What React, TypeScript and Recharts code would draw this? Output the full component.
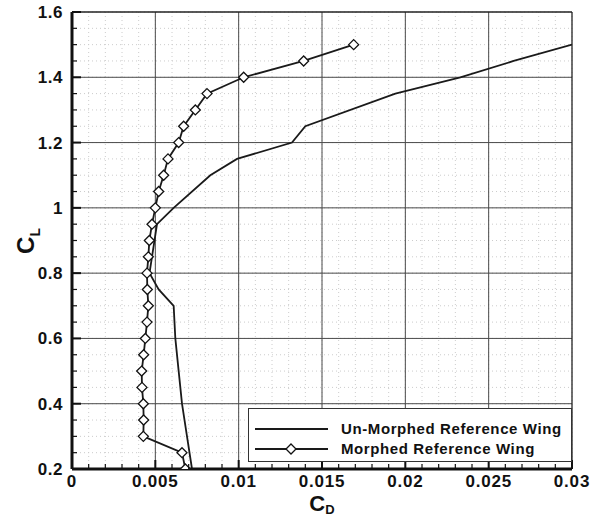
import React from 'react';
import { LineChart, Line, XAxis, YAxis, CartesianGrid, ReferenceLine, Legend } from 'recharts';

// lift coefficient (y) and drag coefficient (x)
const unmorphedCl = [0.2, 0.3, 0.4, 0.5, 0.6, 0.7, 0.75, 0.8, 0.95, 1.0, 1.1, 1.15, 1.2, 1.25, 1.35, 1.4, 1.45, 1.5];
const unmorphedCd = [0.0072, 0.0069, 0.0066, 0.0064, 0.0062, 0.0061, 0.0052, 0.00465, 0.0051, 0.0061, 0.0083, 0.0099, 0.0132, 0.014, 0.0194, 0.0233, 0.0265, 0.03];

const morphedCl = [0.2, 0.25, 0.3, 0.35, 0.4, 0.45, 0.5, 0.55, 0.6, 0.65, 0.7, 0.75, 0.8, 0.85, 0.9, 0.95, 1.0, 1.05, 1.1, 1.15, 1.2, 1.25, 1.3, 1.35, 1.4, 1.45, 1.5];
const morphedCd = [0.0068, 0.0066, 0.00428, 0.0043, 0.00428, 0.0042, 0.00418, 0.0043, 0.0044, 0.0045, 0.00458, 0.00452, 0.0045, 0.00458, 0.00464, 0.0048, 0.005, 0.0052, 0.0055, 0.00576, 0.0064, 0.0067, 0.0074, 0.0081, 0.0103, 0.0139, 0.0169];

const seriesNames = ['Un-Morphed Reference Wing', 'Morphed Reference Wing'];

const xTicks = [0, 0.005, 0.01, 0.015, 0.02, 0.025, 0.03];
const xTickLabels = ['0', '0.005', '0.01', '0.015', '0.02', '0.025', '0.03'];
const yTicks = [0.2, 0.4, 0.6, 0.8, 1.0, 1.2, 1.4, 1.6];
const yTickLabels = ['0.2', '0.4', '0.6', '0.8', '1', '1.2', '1.4', '1.6'];

const unmorphed = unmorphedCl.map((cl, i) => ({ cd: unmorphedCd[i], cl }));
const morphed = morphedCl.map((cl, i) => ({ cd: morphedCd[i], cl }));

// minor divisions between major ticks
const subdivide = (major: number[], n: number) => {
  const out: number[] = [];
  for (let i = 0; i < major.length - 1; i++) {
    const step = (major[i + 1] - major[i]) / n;
    for (let k = 0; k < n; k++) out.push(major[i] + k * step);
  }
  out.push(major[major.length - 1]);
  return out;
};
const xMinor = subdivide(xTicks, 5);
const yMinor = subdivide(yTicks, 4);

const FONT = '"Liberation Sans", Arial, Helvetica, sans-serif';
const near = (a: number, b: number) => Math.abs(a - b) < 1e-9;

const XTick = (props: any) => {
  const { x, y, payload } = props;
  const idx = xTicks.findIndex((t) => near(t, payload.value));
  const major = idx >= 0;
  return (
    <g>
      <line x1={x} x2={x} y1={y} y2={y - (major ? 9 : 5)} stroke="#111" strokeWidth={major ? 2 : 1.2} />
      {major && (
        <text x={x} y={y + 18} textAnchor="middle" fontFamily={FONT} fontWeight="bold" fontSize={17} letterSpacing={0.8} fill="#111">
          {xTickLabels[idx]}
        </text>
      )}
    </g>
  );
};

const YTick = (props: any) => {
  const { x, y, payload } = props;
  const idx = yTicks.findIndex((t) => near(t, payload.value));
  const major = idx >= 0;
  return (
    <g>
      <line x1={x} x2={x + (major ? 9 : 5)} y1={y} y2={y} stroke="#111" strokeWidth={major ? 2 : 1.2} />
      {major && (
        <text x={x - 9} y={y + 6} textAnchor="end" fontFamily={FONT} fontWeight="bold" fontSize={17} letterSpacing={0.5} fill="#111">
          {yTickLabels[idx]}
        </text>
      )}
    </g>
  );
};

const Diamond = (props: any) => {
  const { cx, cy, index } = props;
  if (cx == null || cy == null) return <g key={index} />;
  const r = 5;
  return (
    <polygon
      key={index}
      points={`${cx},${cy - r} ${cx + r},${cy} ${cx},${cy + r} ${cx - r},${cy}`}
      fill="#fff"
      stroke="#111"
      strokeWidth={1.3}
    />
  );
};

const renderLegend = () => (
  <div
    style={{
      width: 324,
      height: 54,
      boxSizing: 'border-box',
      border: '1.5px solid #333',
      background: '#fff',
      position: 'relative',
      fontFamily: FONT,
      fontWeight: 'bold',
      fontSize: 15,
      letterSpacing: 0.6,
      color: '#111',
    }}
  >
    {seriesNames.map((name, i) => (
      <div key={name} style={{ position: 'absolute', left: 0, top: i === 0 ? 10 : 29.5, height: 20, display: 'flex', alignItems: 'center' }}>
        <svg width={92} height={20}>
          <line x1={6} x2={79} y1={10} y2={10} stroke="#1a1a1a" strokeWidth={1.8} />
          {i === 1 && <polygon points="42,5 47,10 42,15 37,10" fill="#fff" stroke="#111" strokeWidth={1.3} />}
        </svg>
        <span style={{ lineHeight: '20px' }}>{name}</span>
      </div>
    ))}
  </div>
);

export default function App() {
  return (
    <div style={{ position: 'absolute', left: 0, top: 0, width: 601, height: 517, background: '#fff' }}>
      <LineChart width={601} height={517} margin={{ top: 12, right: 29, bottom: 0, left: 0 }}>
        <CartesianGrid stroke="#cccccc" strokeDasharray="1 3" />
        {xTicks.slice(1, -1).map((v) => (
          <ReferenceLine key={`x${v}`} x={v} stroke="#4a4a4a" strokeWidth={1} />
        ))}
        {yTicks.slice(1, -1).map((v) => (
          <ReferenceLine key={`y${v}`} y={v} stroke="#4a4a4a" strokeWidth={1} />
        ))}
        <ReferenceLine x={0.03} stroke="#222" strokeWidth={1.3} />
        <ReferenceLine y={1.6} stroke="#222" strokeWidth={1.3} />
        <XAxis
          type="number"
          dataKey="cd"
          domain={[0, 0.03]}
          ticks={xMinor}
          interval={0}
          height={48}
          tickSize={0}
          tickMargin={0}
          tickLine={false}
          axisLine={{ stroke: '#111', strokeWidth: 3 }}
          tick={(p: any) => <XTick {...p} />}
          allowDataOverflow
          label={{
            content: () => (
              <text x={322} y={511} textAnchor="middle" fontFamily={FONT} fontWeight="bold" fill="#111">
                <tspan fontSize={22}>C</tspan>
                <tspan fontSize={13} dy={3}>D</tspan>
              </text>
            ),
          }}
        />
        <YAxis
          type="number"
          dataKey="cl"
          domain={[0.2, 1.6]}
          ticks={yMinor}
          interval={0}
          width={72}
          tickSize={0}
          tickMargin={0}
          tickLine={false}
          axisLine={{ stroke: '#111', strokeWidth: 3 }}
          tick={(p: any) => <YTick {...p} />}
          allowDataOverflow
          label={{
            content: () => (
              <text x={34} y={241} transform="rotate(-90, 34, 241)" textAnchor="middle" fontFamily={FONT} fontWeight="bold" fill="#111">
                <tspan fontSize={24}>C</tspan>
                <tspan fontSize={14} dy={6}>L</tspan>
              </text>
            ),
          }}
        />
        <Legend
          layout="vertical"
          align="center"
          verticalAlign="middle"
          content={renderLegend}
          wrapperStyle={{ left: 248, top: 408, width: 324, height: 54 }}
        />
        <Line
          name={seriesNames[0]}
          data={unmorphed}
          dataKey="cl"
          type="linear"
          stroke="#1a1a1a"
          strokeWidth={1.8}
          dot={false}
          isAnimationActive={false}
        />
        <Line
          name={seriesNames[1]}
          data={morphed}
          dataKey="cl"
          type="linear"
          stroke="#1a1a1a"
          strokeWidth={1.8}
          dot={(p: any) => <Diamond key={p.index} {...p} />}
          isAnimationActive={false}
        />
      </LineChart>
    </div>
  );
}
